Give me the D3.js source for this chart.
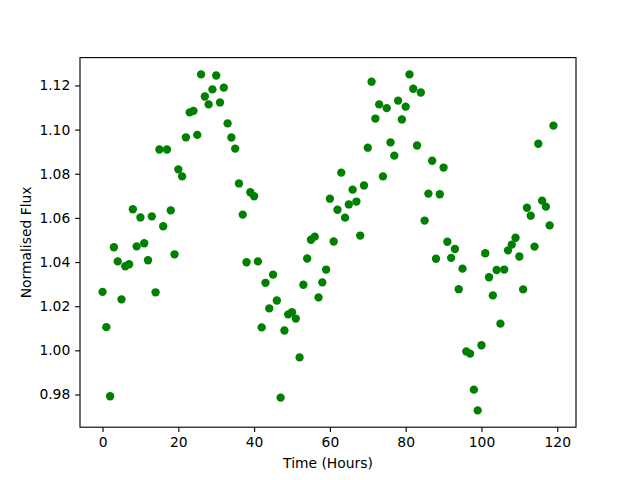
<!DOCTYPE html>
<head>
    <script src="https://d3js.org/d3.v7.min.js"></script>
    <style>
        body { margin: 0; background: #fff; }
        text { font-family: 'DejaVu Sans', sans-serif; }
    </style>
</head>
<body>
    <div id='container'></div>
    <script>
        // hours since start of observation
        const hours = [0,1,2,3,4,5,6,7,8,9,10,11,12,13,14,15,16,17,18,19,
                       20,21,22,23,24,25,26,27,28,29,30,31,32,33,34,35,36,37,38,39,
                       40,41,42,43,44,45,46,47,48,49,50,51,52,53,54,55,56,57,58,59,
                       60,61,62,63,64,65,66,67,68,69,70,71,72,73,74,75,76,77,78,79,
                       80,81,82,83,84,85,86,87,88,89,90,91,92,93,94,95,96,97,98,99,
                       100,101,102,103,104,105,106,107,108,109,110,111,112,113,114,115,116,117,118,119];
        // normalised flux
        const flux = [1.0265,1.0105,0.9792,1.0467,1.0403,1.0231,1.0381,1.0390,1.0639,1.0471,
                      1.0602,1.0485,1.0408,1.0607,1.0263,1.0910,1.0562,1.0910,1.0634,1.0435,
                      1.0820,1.0788,1.0965,1.1078,1.1085,1.0976,1.1250,1.1150,1.1114,1.1182,
                      1.1245,1.1123,1.1190,1.1028,1.0964,1.0914,1.0756,1.0615,1.0399,1.0716,
                      1.0698,1.0403,1.0104,1.0306,1.0190,1.0343,1.0226,0.9786,1.0090,1.0163,
                      1.0173,1.0144,0.9968,1.0297,1.0416,1.0501,1.0515,1.0240,1.0308,1.0366,
                      1.0687,1.0493,1.0637,1.0805,1.0601,1.0661,1.0728,1.0674,1.0520,1.0747,
                      1.0918,1.1217,1.1050,1.1114,1.0788,1.1097,1.0942,1.0882,1.1131,1.1046,
                      1.1104,1.1250,1.1185,1.0928,1.1168,1.0588,1.0710,1.0859,1.0415,1.0707,
                      1.0828,1.0492,1.0419,1.0459,1.0277,1.0370,0.9995,0.9985,0.9822,0.9728,
                      1.0023,1.0440,1.0331,1.0249,1.0364,1.0121,1.0366,1.0453,1.0479,1.0510,
                      1.0425,1.0276,1.0646,1.0610,1.0470,1.0936,1.0678,1.0651,1.0566,1.1018];
        const xTicks = [0,20,40,60,80,100,120];
        const yTicks = [0.98,1.00,1.02,1.04,1.06,1.08,1.10,1.12];

        const data = hours.map((h,i)=> [h, flux[i]]);

        const w=640;
        const h=480;
        const padL=80, padR=576, padT=57.6, padB=427.2;
        const pt=100/72;

        // matplotlib style 5% margins
        const xMin=d3.min(hours), xMax=d3.max(hours);
        const yMin=d3.min(flux), yMax=d3.max(flux);
        const xPad=(xMax-xMin)*0.05, yPad=(yMax-yMin)*0.05;

        const xScale=d3.scaleLinear()
                       .domain([xMin-xPad, xMax+xPad])
                       .range([padL, padR]);
        const yScale=d3.scaleLinear()
                       .domain([yMin-yPad, yMax+yPad])
                       .range([padB, padT]);

        const xAxis=d3.axisBottom(xScale)
                      .tickValues(xTicks)
                      .tickFormat(d3.format('d'))
                      .tickSizeInner(3.5*pt)
                      .tickSizeOuter(0)
                      .tickPadding(3.5*pt);
        const yAxis=d3.axisLeft(yScale)
                      .tickValues(yTicks)
                      .tickFormat(d3.format('.2f'))
                      .tickSizeInner(3.5*pt)
                      .tickSizeOuter(0)
                      .tickPadding(3.5*pt);

        const svg=d3.select('#container')
                    .append('svg')
                    .attr('width', w)
                    .attr('height', h);

        svg.append('rect')
           .attr('width', w)
           .attr('height', h)
           .attr('fill', '#fff');

        svg.selectAll('circle')
           .data(data)
           .enter()
           .append('circle')
           .attr('cx', (d)=> xScale(d[0]))
           .attr('cy', (d)=> yScale(d[1]))
           .attr('r', 3*pt)
           .attr('fill', 'green');

        const gx=svg.append('g')
                    .attr('transform', 'translate(0,' + padB + ')')
                    .call(xAxis);
        const gy=svg.append('g')
                    .attr('transform', 'translate(' + padL + ',0)')
                    .call(yAxis);

        [gx, gy].forEach((g)=>{
            g.select('.domain').remove();
            g.selectAll('line').attr('stroke', '#000').attr('stroke-width', 0.8*pt);
            g.selectAll('text').attr('font-size', 10*pt).attr('fill', '#000')
             .attr('font-family', 'DejaVu Sans');
        });

        // frame
        svg.append('rect')
           .attr('x', padL)
           .attr('y', padT)
           .attr('width', padR-padL)
           .attr('height', padB-padT)
           .attr('fill', 'none')
           .attr('stroke', '#000')
           .attr('stroke-width', 0.8*pt);

        svg.append('text')
           .attr('x', (padL+padR)/2)
           .attr('y', 468)
           .attr('text-anchor', 'middle')
           .attr('font-size', 10*pt)
           .text('Time (Hours)');

        svg.append('text')
           .attr('transform', 'translate(31,' + ((padT+padB)/2) + ') rotate(-90)')
           .attr('text-anchor', 'middle')
           .attr('font-size', 10*pt)
           .text('Normalised Flux');
    </script>
</body>
